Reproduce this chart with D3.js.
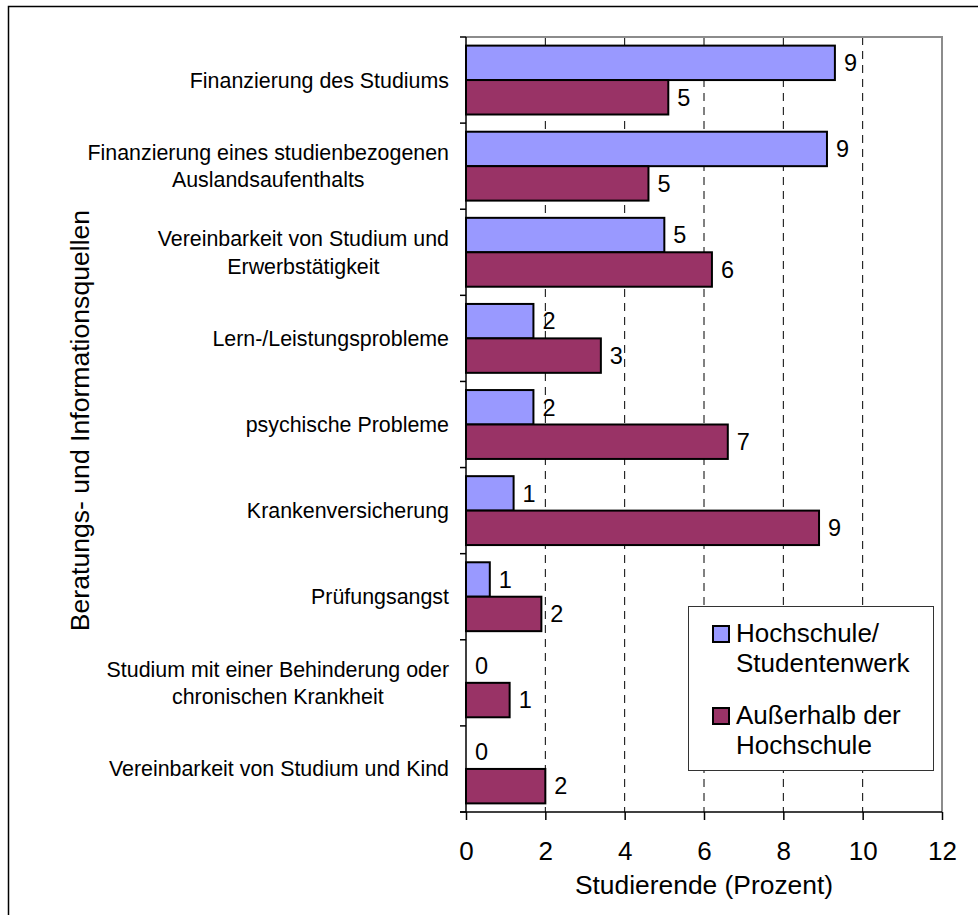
<!DOCTYPE html>
<html>
<head>
<meta charset="utf-8">
<script src="https://cdn.jsdelivr.net/npm/d3@7/dist/d3.min.js"></script>
<style>
  html, body { margin: 0; padding: 0; background: #fff; }
  svg { display: block; font-family: "Liberation Sans", Arial, Helvetica, sans-serif; }
</style>
</head>
<body>
<svg id="chart" width="978" height="915"></svg>
<script>
// Advice and information sources used by students (percent)
const categories = [
  ["Finanzierung des Studiums"],
  ["Finanzierung eines studienbezogenen", "Auslandsaufenthalts"],
  ["Vereinbarkeit von Studium und", "Erwerbstätigkeit"],
  ["Lern-/Leistungsprobleme"],
  ["psychische Probleme"],
  ["Krankenversicherung"],
  ["Prüfungsangst"],
  ["Studium mit einer Behinderung oder", "chronischen Krankheit"],
  ["Vereinbarkeit von Studium und Kind"]
];
const hochschule = [9.3, 9.1, 5.0, 1.7, 1.7, 1.2, 0.6, 0, 0];
const ausserhalb = [5.1, 4.6, 6.2, 3.4, 6.6, 8.9, 1.9, 1.1, 2.0];
const seriesNames = [["Hochschule/", "Studentenwerk"], ["Außerhalb der", "Hochschule"]];
const seriesColors = ["#9999FF", "#993366"];
const xTicks = [0, 2, 4, 6, 8, 10, 12];
const xTitle = "Studierende (Prozent)";
const yTitle = "Beratungs- und Informationsquellen";

const svg = d3.select("#chart");
const plot = { left: 466, right: 942, top: 37, bottom: 812 };

const x = d3.scaleLinear().domain([0, 12]).range([plot.left, plot.right]);
const y = d3.scaleBand().domain(d3.range(categories.length))
  .range([plot.top, plot.bottom]).paddingInner(0.2).paddingOuter(0.1);
const ySub = d3.scaleBand().domain([0, 1]).range([0, y.bandwidth()]);

// outer frame
svg.append("rect").attr("x", 8.5).attr("y", 6.5).attr("width", 1000).attr("height", 1000)
  .attr("fill", "#fff").attr("stroke", "#000").attr("stroke-width", 1.5);

// dashed vertical gridlines
svg.append("g").selectAll("line").data(xTicks.filter(t => t > 0 && t < 12)).join("line")
  .attr("x1", d => x(d)).attr("x2", d => x(d))
  .attr("y1", plot.top).attr("y2", plot.bottom)
  .attr("stroke", "#000").attr("stroke-width", 1).attr("stroke-dasharray", "8,6");

// grey plot-area border (top and right)
svg.append("path")
  .attr("d", `M${plot.left},${plot.top}H${plot.right}V${plot.bottom}`)
  .attr("fill", "none").attr("stroke", "#8c8c8c").attr("stroke-width", 2);

// bars
const series = [hochschule, ausserhalb];
const barG = svg.append("g");
series.forEach((vals, s) => {
  barG.selectAll(null).data(vals).join("rect")
    .attr("x", x(0))
    .attr("y", (d, i) => y(i) + ySub(s))
    .attr("width", d => x(d) - x(0))
    .attr("height", ySub.bandwidth())
    .attr("fill", seriesColors[s])
    .attr("stroke", "#000").attr("stroke-width", 2)
    .attr("display", d => d > 0 ? null : "none");
  // value labels
  barG.selectAll(null).data(vals).join("text")
    .attr("x", d => x(d) + 9)
    .attr("y", (d, i) => y(i) + ySub(s) + ySub.bandwidth() / 2)
    .attr("dy", "0.35em")
    .attr("font-size", 23.5)
    .attr("fill", "#000")
    .text(d => d3.format(".0f")(d));
});

// left category axis
const leftAxis = svg.append("g");
leftAxis.append("line").attr("x1", plot.left).attr("x2", plot.left)
  .attr("y1", plot.top).attr("y2", plot.bottom).attr("stroke", "#000").attr("stroke-width", 1.5);
const bounds = d3.range(categories.length + 1).map(k =>
  k < categories.length ? y(k) + y.bandwidth() / 2 - y.step() / 2
                        : y(k - 1) + y.bandwidth() / 2 + y.step() / 2);
leftAxis.selectAll(null).data(bounds).join("line")
  .attr("x1", plot.left - 6).attr("x2", plot.left)
  .attr("y1", d => d).attr("y2", d => d)
  .attr("stroke", "#000").attr("stroke-width", 1.5);

// category labels: line block right-aligned, lines centred within the block
const lineH = 27.5;
categories.forEach((lines, i) => {
  const cy = y(i) + y.bandwidth() / 2;
  const g = svg.append("g");
  const t = g.append("text").attr("text-anchor", "middle").attr("font-size", 21.4).attr("fill", "#000");
  lines.forEach((ln, j) => {
    t.append("tspan").attr("x", 0)
      .attr("y", cy + (j - (lines.length - 1) / 2) * lineH)
      .attr("dy", "0.35em").text(ln);
  });
  const w = t.node().getBBox().width;
  g.attr("transform", `translate(${449 - w / 2},0)`);
});

// bottom value axis
svg.append("line").attr("x1", plot.left - 6).attr("x2", plot.right)
  .attr("y1", plot.bottom).attr("y2", plot.bottom).attr("stroke", "#000").attr("stroke-width", 1.5);
const xAxis = svg.append("g").attr("transform", `translate(0,${plot.bottom})`)
  .call(d3.axisBottom(x).tickValues(xTicks).tickSize(8).tickSizeOuter(0));
xAxis.select(".domain").remove();
xAxis.selectAll(".tick line").attr("stroke", "#000").attr("stroke-width", 1.5);
xAxis.selectAll(".tick text").attr("y", 48).attr("dy", null)
  .attr("font-size", 26).attr("fill", "#000")
  .attr("font-family", "Liberation Sans, Arial, sans-serif");

// axis titles
svg.append("text").attr("x", (plot.left + plot.right) / 2).attr("y", 894)
  .attr("text-anchor", "middle").attr("font-size", 26.4).attr("fill", "#000").text(xTitle);
svg.append("text").attr("transform", `translate(89,${(plot.top + plot.bottom) / 2 - 4}) rotate(-90)`)
  .attr("text-anchor", "middle").attr("font-size", 26.6).attr("fill", "#000").text(yTitle);

// legend
const lg = svg.append("g");
lg.append("rect").attr("x", 688.5).attr("y", 606.5).attr("width", 245).attr("height", 164)
  .attr("fill", "#fff").attr("stroke", "#333").attr("stroke-width", 1);
const legendTop = [626, 708];
seriesNames.forEach((lines, s) => {
  lg.append("rect").attr("x", 713).attr("y", legendTop[s]).attr("width", 16).attr("height", 16)
    .attr("fill", seriesColors[s]).attr("stroke", "#000").attr("stroke-width", 2);
  const t = lg.append("text").attr("font-size", 26).attr("fill", "#000");
  lines.forEach((ln, j) => {
    t.append("tspan").attr("x", 736).attr("y", legendTop[s] + 16 + j * 29.5).text(ln);
  });
});
</script>
</body>
</html>
